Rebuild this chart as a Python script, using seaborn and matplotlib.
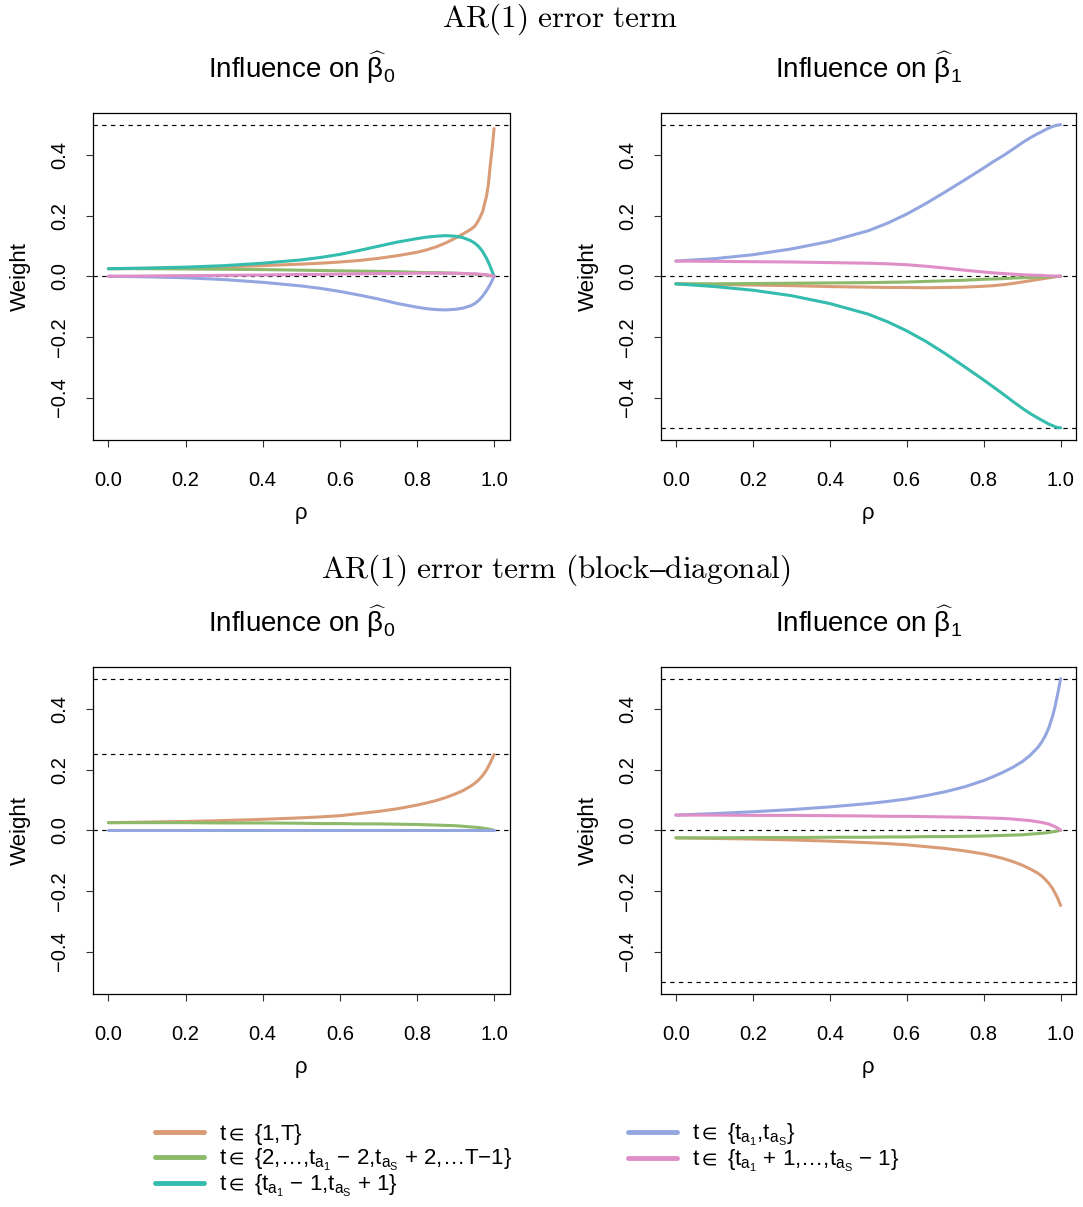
import numpy as np
import pandas as pd
import matplotlib
matplotlib.use("Agg")
import matplotlib.pyplot as plt
from matplotlib.lines import Line2D
import seaborn as sns

# ---------------- data ----------------
rho = [0.0, 0.1, 0.2, 0.3, 0.4, 0.5, 0.55, 0.6, 0.65, 0.7, 0.75, 0.8, 0.825, 0.85, 0.875,
       0.9, 0.92, 0.94, 0.95, 0.96, 0.97, 0.98, 0.985, 0.99, 0.995, 1.0]

series_names = ["s1T", "s2", "s3", "s4", "s5"]
series_labels = [
    "t$\\in$ {1,T}",
    "t$\\in$ {2,\u2026,t$_{\\mathrm{a}_1}$ \u2212 2,t$_{\\mathrm{a}_\\mathrm{S}}$ + 2,\u2026T\u22121}",
    "t$\\in$ {t$_{\\mathrm{a}_1}$ \u2212 1,t$_{\\mathrm{a}_\\mathrm{S}}$ + 1}",
    "t$\\in$ {t$_{\\mathrm{a}_1}$,t$_{\\mathrm{a}_\\mathrm{S}}$}",
    "t$\\in$ {t$_{\\mathrm{a}_1}$ + 1,\u2026,t$_{\\mathrm{a}_\\mathrm{S}}$ \u2212 1}",
]
series_colors = ["#D99C76", "#8CB96A", "#34BDAE", "#94A6E0", "#E08EC8"]

# AR(1), influence on beta0
ar_b0_s1 = [.025, .026, .028, .031, .035, .040, .043, .047, .052, .059, .068, .079, .087, .097, .110,
            .126, .140, .155, .165, .185, .212, .262, .300, .365, .420, .487]
ar_b0_s2 = [.025, .025, .024, .023, .022, .020, .019, .018, .017, .016, .015, .013, .012, .012, .011,
            .010, .009, .007, .007, .006, .005, .004, .003, .002, .001, 0.0]
ar_b0_s3 = [.025, .027, .030, .035, .043, .054, .062, .072, .085, .099, .113, .124, .129, .132, .134,
            .132, .127, .117, .109, .098, .082, .060, .047, .032, .016, 0.0]
ar_b0_s4 = [0.0, -.002, -.005, -.011, -.020, -.032, -.040, -.050, -.062, -.075, -.090, -.102, -.107, -.110, -.111,
            -.109, -.105, -.097, -.090, -.080, -.066, -.048, -.038, -.027, -.014, 0.0]
ar_b0_s5 = [0.0, .001, .002, .003, .004, .006, .006, .007, .008, .009, .009, .010, .010, .010, .010,
            .010, .009, .008, .008, .007, .006, .005, .004, .003, .002, 0.0]

# AR(1), influence on beta1
ar_b1_s1 = [-.025, -.027, -.029, -.031, -.034, -.036, -.037, -.037, -.038, -.037, -.036, -.033, -.031, -.028, -.024,
            -.019, -.015, -.011, -.009, -.007, -.005, -.003, -.002, -.001, -.0005, 0.0]
ar_b1_s2 = [-.025, -.025, -.024, -.023, -.022, -.021, -.020, -.019, -.017, -.015, -.013, -.010, -.009, -.008, -.006,
            -.005, -.004, -.003, -.003, -.002, -.002, -.001, -.001, 0.0, 0.0, 0.0]
ar_b1_s3 = [-.025, -.034, -.046, -.064, -.090, -.125, -.150, -.180, -.215, -.255, -.298, -.342, -.365, -.388, -.412,
            -.435, -.452, -.467, -.474, -.481, -.488, -.493, -.496, -.498, -.499, -.500]
ar_b1_s4 = [.050, .058, .071, .090, .115, .150, .175, .205, .240, .278, .317, .357, .378, .397, .418,
            .440, .456, .470, .476, .483, .489, .494, .496, .498, .499, .500]
ar_b1_s5 = [.050, .049, .048, .047, .045, .043, .041, .038, .033, .027, .020, .014, .011, .009, .007,
            .005, .004, .003, .003, .002, .001, .001, .0005, 0.0, 0.0, 0.0]

# AR(1) block-diagonal, influence on beta0
bd_b0_s1 = [.025, .027, .029, .032, .036, .041, .044, .048, .055, .062, .071, .083, .090, .098, .108,
            .120, .131, .146, .155, .166, .180, .198, .210, .222, .236, .250]
bd_b0_s2 = [.025, .025, .025, .024, .024, .023, .022, .022, .021, .021, .020, .019, .018, .017, .016,
            .015, .013, .011, .010, .009, .007, .005, .004, .003, .001, 0.0]
bd_b0_s4 = [0.0] * 26

# AR(1) block-diagonal, influence on beta1
bd_b1_s1 = [-.025, -.027, -.029, -.032, -.036, -.041, -.044, -.048, -.054, -.060, -.068, -.078, -.085, -.093, -.103,
            -.115, -.127, -.141, -.150, -.162, -.176, -.194, -.206, -.218, -.232, -.248]
bd_b1_s2 = [-.025, -.025, -.024, -.024, -.023, -.023, -.022, -.022, -.021, -.021, -.020, -.019, -.018, -.017, -.016,
            -.015, -.013, -.011, -.010, -.009, -.007, -.005, -.004, -.003, -.001, 0.0]
bd_b1_s4 = [.050, .055, .061, .068, .077, .088, .095, .103, .114, .127, .143, .164, .177, .191, .207,
            .226, .246, .272, .289, .311, .340, .380, .405, .435, .466, .500]
bd_b1_s5 = [.050, .050, .049, .049, .048, .047, .046, .046, .045, .044, .043, .041, .040, .039, .037,
            .034, .032, .028, .026, .023, .020, .015, .012, .009, .005, 0.0]

x_ticks = [0.0, 0.2, 0.4, 0.6, 0.8, 1.0]
x_ticklabels = ["0.0", "0.2", "0.4", "0.6", "0.8", "1.0"]
y_ticks = [-0.4, -0.2, 0.0, 0.2, 0.4]
y_ticklabels = ["\u22120.4", "\u22120.2", "0.0", "0.2", "0.4"]

# ---------------- style ----------------
sns.set_style("white")
plt.rcParams["font.family"] = ["Liberation Sans", "DejaVu Sans"]
plt.rcParams["mathtext.fontset"] = "custom"
plt.rcParams["mathtext.rm"] = "Liberation Sans"
plt.rcParams["mathtext.it"] = "Liberation Sans:italic"
plt.rcParams["mathtext.bf"] = "Liberation Sans:bold"
plt.rcParams["mathtext.fallback"] = "stixsans"
plt.rcParams["axes.unicode_minus"] = True
for key in ["text.color", "axes.labelcolor", "xtick.color", "ytick.color", "axes.edgecolor"]:
    plt.rcParams[key] = "black"

palette = dict(zip(series_names, series_colors))

fig = plt.figure(figsize=(10.83, 12.07), dpi=100)
W, H = 1083.0, 1207.0


def make_axes(left, top, right, bottom):
    return fig.add_axes([left / W, 1 - bottom / H, (right - left) / W, (bottom - top) / H])


panels = [
    (make_axes(93, 112.5, 509.5, 440), {"s1T": ar_b0_s1, "s2": ar_b0_s2, "s3": ar_b0_s3, "s4": ar_b0_s4, "s5": ar_b0_s5},
     [0.5, 0.0], 0),
    (make_axes(660.5, 112.5, 1076, 440), {"s1T": ar_b1_s1, "s2": ar_b1_s2, "s3": ar_b1_s3, "s4": ar_b1_s4, "s5": ar_b1_s5},
     [0.5, 0.0, -0.5], 1),
    (make_axes(93, 666.5, 509.5, 994), {"s1T": bd_b0_s1, "s2": bd_b0_s2, "s4": bd_b0_s4},
     [0.5, 0.25, 0.0], 0),
    (make_axes(660.5, 666.5, 1076, 994), {"s1T": bd_b1_s1, "s2": bd_b1_s2, "s4": bd_b1_s4, "s5": bd_b1_s5},
     [0.5, 0.0, -0.5], 1),
]

for ax, data, hlines, which in panels:
    rows = []
    for name in series_names:
        if name in data:
            assert len(data[name]) == len(rho), name
            for r, w in zip(rho, data[name]):
                rows.append({"rho": r, "weight": w, "series": name})
    df = pd.DataFrame(rows)
    order = [n for n in series_names if n in data]
    for v in hlines:
        ax.axhline(v, color="black", lw=0.85, ls=(0, (3.7, 3.7)), zorder=1)
    sns.lineplot(data=df, x="rho", y="weight", hue="series", hue_order=order,
                 palette=palette, linewidth=2.2, legend=False, ax=ax,
                 estimator=None, sort=False, zorder=2)
    ax.set_xlim(-0.04, 1.04)
    ax.set_ylim(-0.54, 0.54)
    ax.set_xticks(x_ticks)
    ax.set_xticklabels(x_ticklabels)
    ax.set_yticks(y_ticks)
    ax.set_yticklabels(y_ticklabels, rotation=90, va="center")
    ax.tick_params(axis="both", direction="out", length=5, width=0.8, color="#333333",
                   labelsize=14.5, left=True, bottom=True)
    ax.tick_params(axis="x", pad=17)
    ax.tick_params(axis="y", pad=12)
    for sp in ax.spines.values():
        sp.set_visible(True)
        sp.set_color("black")
        sp.set_linewidth(0.9)
    ax.set_xlabel("\u03c1", fontsize=16)
    ax.set_ylabel("Weight", fontsize=16)
    ax.xaxis.set_label_coords(0.5, -0.192)
    ax.yaxis.set_label_coords(-0.149, 0.5)
    sub = "0" if which == 0 else "1"
    ax.text(0.5, 1.105, "Influence on $\\widehat{\\mathrm{\u03b2}}_" + sub + "$",
            transform=ax.transAxes, ha="center", va="baseline", fontsize=20)

fig.text(560 / W, 1 - 27 / H, r"$\mathrm{AR(1)\ error\ term}$", math_fontfamily="cm",
         ha="center", va="baseline", fontsize=22.5)
fig.text(556 / W, 1 - 578 / H, "$\\mathrm{AR(1)\\ error\\ term\\ (block\u2013diagonal)}$",
         math_fontfamily="cm", ha="center", va="baseline", fontsize=22.5)

handles = [Line2D([0], [0], color=c, lw=3.5) for c in series_colors]
leg_kw = dict(frameon=False, fontsize=16, handlelength=2.2, handletextpad=0.68,
              labelspacing=0.0, borderpad=0, borderaxespad=0, loc="upper left")
leg1 = fig.legend(handles[:3], series_labels[:3], bbox_to_anchor=(155 / W, 1 - 1122 / H), **leg_kw)
leg2 = fig.legend(handles[3:], series_labels[3:], bbox_to_anchor=(628 / W, 1 - 1122 / H), **leg_kw)

fig.savefig("out.png", dpi=100)
